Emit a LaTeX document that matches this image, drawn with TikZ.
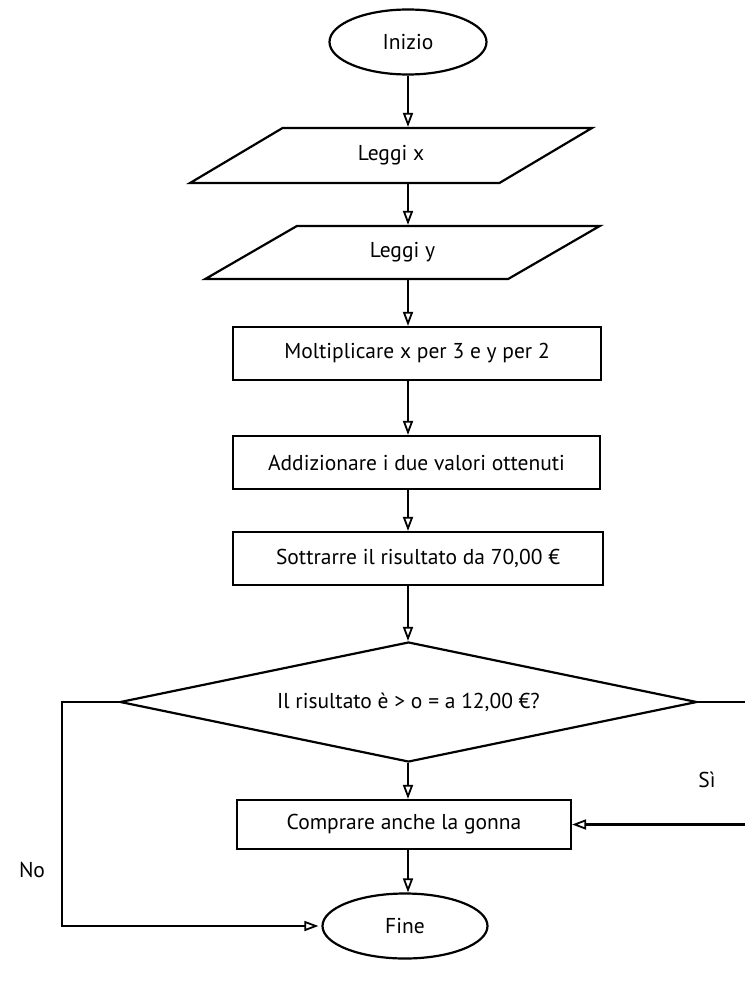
\documentclass[tikz,border=0pt]{standalone}
\usepackage{fontspec}
\setmainfont{PT Sans}
\usetikzlibrary{shapes.geometric,arrows.meta}
\begin{document}
\begin{tikzpicture}[x=1pt,y=-1pt,
  every node/.style={font=\fontsize{21.5}{25}\selectfont, inner sep=0pt, line width=2.2pt},
  term/.style={ellipse, draw},
  io/.style={trapezium, draw, trapezium left angle=35, trapezium right angle=145, trapezium stretches=true},
  proc/.style={rectangle, draw},
  dec/.style={diamond, draw, aspect=4.8},
  arr/.style={line width=2.2pt, -{Triangle[open,length=14pt,width=10pt,line width=1.8pt]}},
  lbl/.style={font=\fontsize{21.5}{25}\selectfont}]
\fill[white] (0,0) rectangle (744,998);
\useasboundingbox (0,0) rectangle (744,998);
\node[term, minimum width=157pt, minimum height=65pt] (inizio) at (408,42) {Inizio};
\node[io, minimum width=402pt, minimum height=55pt] (lx) at (391,155.5) {Leggi x};
\node[io, minimum width=395pt, minimum height=53pt] (ly) at (402.5,252.5) {Leggi y};
\node[proc, minimum width=368pt, minimum height=53pt] (mult) at (417,353.5) {Moltiplicare x per 3 e y per 2};
\node[proc, minimum width=367pt, minimum height=53pt] (add) at (416.5,462.5) {Addizionare i due valori ottenuti};
\node[proc, minimum width=370pt, minimum height=53pt] (sott) at (418,558.5) {Sottrarre il risultato da 70,00 €};
\node[dec, minimum width=577pt, minimum height=120pt] (cond) at (408.5,702) {Il risultato è > o = a 12,00 €?};
\node[proc, minimum width=334pt, minimum height=49pt] (comp) at (404,824.5) {Comprare anche la gonna};
\node[term, minimum width=165pt, minimum height=65pt] (fine) at (405,926) {Fine};
\coordinate (nl) at (62,0);
\coordinate (sr) at (750,0);
\node[lbl] (si) at (707,780) {Sì};
\node[lbl] (no) at (32,870) {No};
\draw[arr] (inizio.south) -- (inizio.south |- lx.north);
\draw[arr] (lx.south -| inizio) -- (ly.north -| inizio);
\draw[arr] (ly.south -| inizio) -- (mult.north -| inizio);
\draw[arr] (mult.south -| inizio) -- (add.north -| inizio);
\draw[arr] (add.south -| inizio) -- (sott.north -| inizio);
\draw[arr] (sott.south -| inizio) -- (cond.north -| inizio);
\draw[arr] (cond.south -| inizio) -- (comp.north -| inizio);
\draw[arr] (comp.south -| inizio) -- (fine.north -| inizio);
\draw[arr, shorten >=3pt] (cond.west) -- (cond.west -| nl) |- (fine.west);
\draw[arr] (cond.east) -- (cond.east -| sr) |- (comp.east);
\end{tikzpicture}
\end{document}
